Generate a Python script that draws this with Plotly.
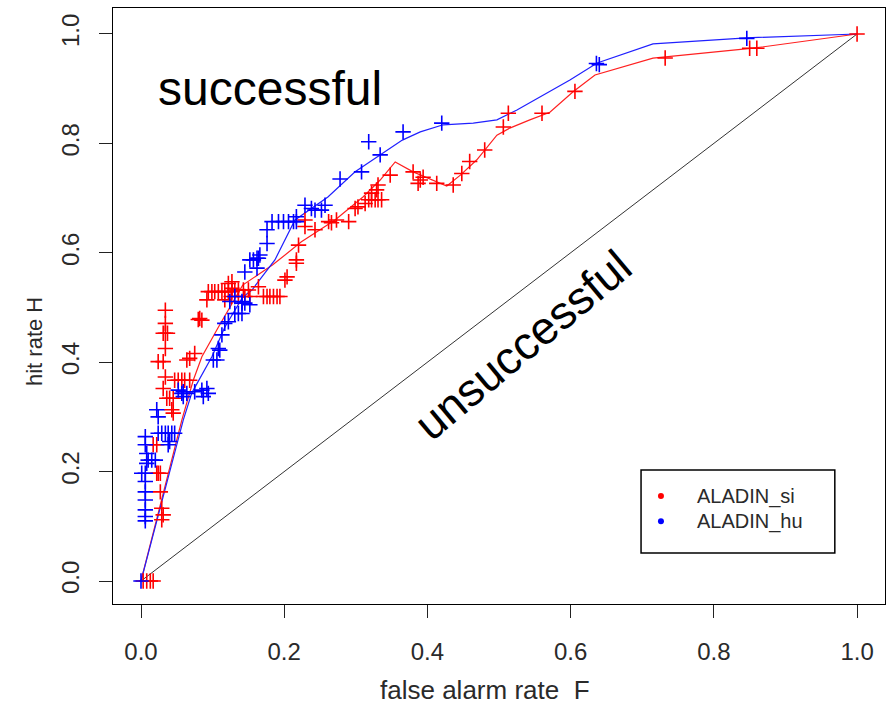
import plotly.graph_objects as go

# ---- data ----
red_line_F = [0.0, 0.057, 0.073, 0.085, 0.108, 0.142, 0.184, 0.224, 0.271, 0.310, 0.334, 0.355,
              0.380, 0.399, 0.427, 0.446, 0.469, 0.497, 0.515, 0.543, 0.571, 0.603, 0.634, 0.715, 0.855, 1.0]
red_line_H = [0.0, 0.294, 0.367, 0.410, 0.464, 0.541, 0.578, 0.620, 0.660, 0.702, 0.733, 0.766,
              0.748, 0.737, 0.722, 0.742, 0.770, 0.815, 0.828, 0.843, 0.857, 0.894, 0.925, 0.956, 0.974, 1.0]

blue_line_F = [0.0, 0.059, 0.071, 0.099, 0.117, 0.142, 0.155, 0.187, 0.215, 0.239, 0.261, 0.299, 0.334,
               0.365, 0.390, 0.422, 0.464, 0.497, 0.525, 0.557, 0.599, 0.637, 0.715, 0.846, 1.0]
blue_line_H = [0.0, 0.294, 0.344, 0.410, 0.464, 0.519, 0.532, 0.587, 0.660, 0.682, 0.702, 0.748, 0.779,
               0.806, 0.821, 0.834, 0.837, 0.843, 0.861, 0.885, 0.916, 0.947, 0.982, 0.993, 1.0]

red_pts_F = [0.003, 0.008, 0.013, 0.017, 0.029, 0.031, 0.029, 0.027, 0.024, 0.022, 0.027, 0.017, 0.022,
             0.034, 0.034, 0.034, 0.031, 0.037, 0.034, 0.024, 0.031, 0.034, 0.031, 0.036, 0.040, 0.045,
             0.043, 0.045, 0.047, 0.052, 0.057, 0.061, 0.068, 0.064, 0.068, 0.075, 0.082, 0.085, 0.080,
             0.094, 0.099, 0.103, 0.108, 0.113, 0.117, 0.122, 0.127, 0.092, 0.117, 0.127,
             0.122, 0.127, 0.131, 0.136, 0.143, 0.150, 0.126, 0.136, 0.145, 0.152,
             0.164, 0.171, 0.176, 0.180, 0.185, 0.190, 0.194, 0.201, 0.204, 0.217, 0.217, 0.220,
             0.229, 0.243, 0.229, 0.262, 0.266, 0.273, 0.290, 0.299, 0.303,
             0.313, 0.318, 0.322, 0.327, 0.331, 0.336, 0.322, 0.329, 0.331, 0.348,
             0.380, 0.390, 0.394, 0.387, 0.413, 0.436, 0.448, 0.459, 0.480,
             0.506, 0.513, 0.560, 0.606, 0.732, 0.850, 0.860, 1.0]
red_pts_H = [0.0, 0.0, 0.0, 0.0, 0.112, 0.121, 0.133, 0.163, 0.197, 0.197, 0.197, 0.249, 0.249,
             0.495, 0.471, 0.453, 0.453, 0.453, 0.425, 0.401, 0.401, 0.373, 0.352, 0.334, 0.334, 0.334,
             0.313, 0.307, 0.367, 0.367, 0.367, 0.367, 0.367, 0.404, 0.407, 0.416, 0.480, 0.477, 0.478,
             0.529, 0.529, 0.529, 0.529, 0.529, 0.529, 0.529, 0.529, 0.514, 0.514, 0.547,
             0.544, 0.535, 0.532, 0.532, 0.532, 0.532, 0.520, 0.520, 0.520, 0.520,
             0.538, 0.520, 0.520, 0.520, 0.520, 0.520, 0.520, 0.550, 0.556, 0.587, 0.581, 0.614,
             0.648, 0.642, 0.660, 0.657, 0.655, 0.660, 0.657, 0.681, 0.684,
             0.690, 0.697, 0.697, 0.697, 0.697, 0.697, 0.709, 0.715, 0.724, 0.742,
             0.748, 0.733, 0.738, 0.727, 0.727, 0.724, 0.745, 0.767, 0.788,
             0.830, 0.855, 0.855, 0.895, 0.956, 0.974, 0.974, 1.0]

blue_pts_F = [0.0, 0.006, 0.006, 0.006, 0.006, 0.006, 0.006, 0.006, 0.001,
              0.008, 0.010, 0.015, 0.020, 0.008, 0.006, 0.006,
              0.024, 0.029, 0.034, 0.038, 0.043, 0.047, 0.038, 0.040,
              0.022, 0.024, 0.052, 0.057, 0.059, 0.064, 0.059,
              0.075, 0.085, 0.092, 0.094, 0.087,
              0.101, 0.106, 0.108, 0.110, 0.113, 0.117, 0.122,
              0.131, 0.136, 0.141, 0.141, 0.124, 0.131, 0.141, 0.145, 0.152,
              0.145, 0.162, 0.162, 0.152, 0.157, 0.164, 0.166, 0.176, 0.176,
              0.183, 0.192, 0.199, 0.206, 0.213, 0.217, 0.217,
              0.229, 0.238, 0.243, 0.252, 0.257,
              0.278, 0.308, 0.318, 0.334, 0.366, 0.420, 0.636, 0.640, 0.846]
blue_pts_H = [0.0, 0.118, 0.110, 0.130, 0.148, 0.163, 0.182, 0.197, 0.197,
              0.215, 0.221, 0.221, 0.221, 0.233, 0.249, 0.264,
              0.270, 0.270, 0.270, 0.270, 0.270, 0.270, 0.249, 0.255,
              0.313, 0.300, 0.349, 0.343, 0.346, 0.343, 0.337,
              0.346, 0.349, 0.352, 0.343, 0.337,
              0.404, 0.404, 0.425, 0.422, 0.450, 0.471, 0.474,
              0.489, 0.489, 0.489, 0.508, 0.511, 0.520, 0.511, 0.508, 0.505,
              0.565, 0.572, 0.590, 0.587, 0.587, 0.590, 0.596, 0.617, 0.642,
              0.657, 0.657, 0.657, 0.657, 0.657, 0.657, 0.666,
              0.687, 0.681, 0.678, 0.678, 0.687,
              0.735, 0.748, 0.803, 0.779, 0.821, 0.837, 0.946, 0.944, 0.992]

diag = [0.0, 1.0]
tick_vals = [0.0, 0.2, 0.4, 0.6, 0.8, 1.0]
tick_text = ["0.0", "0.2", "0.4", "0.6", "0.8", "1.0"]
legend_names = ["ALADIN_si", "ALADIN_hu"]
legend_colors = ["#ff0000", "#0000ff"]

FONT = "Liberation Sans, Arial, sans-serif"
TXT = "#2a2a2a"

fig = go.Figure()
fig.add_trace(go.Scatter(x=diag, y=diag, mode="lines",
                         line=dict(color="#333333", width=1), showlegend=False))
fig.add_trace(go.Scatter(x=red_line_F, y=red_line_H, mode="lines",
                         line=dict(color="#ff2020", width=1.2), showlegend=False))
fig.add_trace(go.Scatter(x=blue_line_F, y=blue_line_H, mode="lines",
                         line=dict(color="#2020ff", width=1.2), showlegend=False))
fig.add_trace(go.Scatter(x=red_pts_F, y=red_pts_H, mode="markers",
                         marker=dict(symbol="cross-thin", size=11,
                                     line=dict(color="#ff0000", width=1.6)),
                         showlegend=False))
fig.add_trace(go.Scatter(x=blue_pts_F, y=blue_pts_H, mode="markers",
                         marker=dict(symbol="cross-thin", size=11,
                                     line=dict(color="#0000ff", width=1.6)),
                         showlegend=False))

axis_common = dict(showgrid=False, zeroline=False, showline=True, mirror=True,
                   linecolor="black", linewidth=1, ticks="outside", ticklen=13,
                   tickwidth=1, tickcolor="#222222", tickvals=tick_vals, ticktext=tick_text,
                   tickfont=dict(family=FONT, size=24, color=TXT))

fig.update_layout(
    width=895, height=704,
    margin=dict(l=113, r=10, t=8, b=100),
    plot_bgcolor="white", paper_bgcolor="white",
    xaxis=dict(range=[-0.0391, 1.039], ticklabelstandoff=13, **axis_common),
    yaxis=dict(range=[-0.042, 1.0475], tickangle=-90, ticklabelstandoff=10, **axis_common),
    showlegend=False,
)

annotations = [
    dict(text="false alarm rate  F", xref="paper", yref="paper", x=0.482, y=-0.1443,
         showarrow=False, font=dict(family=FONT, size=26, color=TXT), xanchor="center", yanchor="middle"),
    dict(text="hit rate H", xref="paper", yref="paper", x=-0.101, y=0.4396, textangle=-90,
         showarrow=False, font=dict(family=FONT, size=22, color=TXT), xanchor="center", yanchor="middle"),
    dict(text="successful", xref="x", yref="y", x=0.021, y=0.900, showarrow=False,
         font=dict(family=FONT, size=48, color="black"), xanchor="left", yanchor="middle"),
    dict(text="unsuccessful", xref="x", yref="y", x=0.533, y=0.431, showarrow=False, textangle=-40,
         font=dict(family=FONT, size=46, color="black"), xanchor="center", yanchor="middle"),
]
leg_y = [0.181, 0.139]
for name, col, yy in zip(legend_names, legend_colors, leg_y):
    annotations.append(dict(text=name, xref="paper", yref="paper", x=0.7539, y=yy, showarrow=False,
                            font=dict(family=FONT, size=20, color=TXT), xanchor="left", yanchor="middle"))
fig.update_layout(annotations=annotations)

shapes = [dict(type="rect", xref="paper", yref="paper", x0=0.684, x1=0.935, y0=0.0856, y1=0.225,
               line=dict(color="black", width=1.5), fillcolor="white", layer="above")]
for col, yy in zip(legend_colors, leg_y):
    shapes.append(dict(type="circle", xref="paper", yref="paper", xsizemode="pixel", ysizemode="pixel",
                       xanchor=0.7098, yanchor=yy, x0=-3, x1=3, y0=-3, y1=3,
                       fillcolor=col, line=dict(color=col, width=0), layer="above"))
fig.update_layout(shapes=shapes)

fig.write_html("out.html")
